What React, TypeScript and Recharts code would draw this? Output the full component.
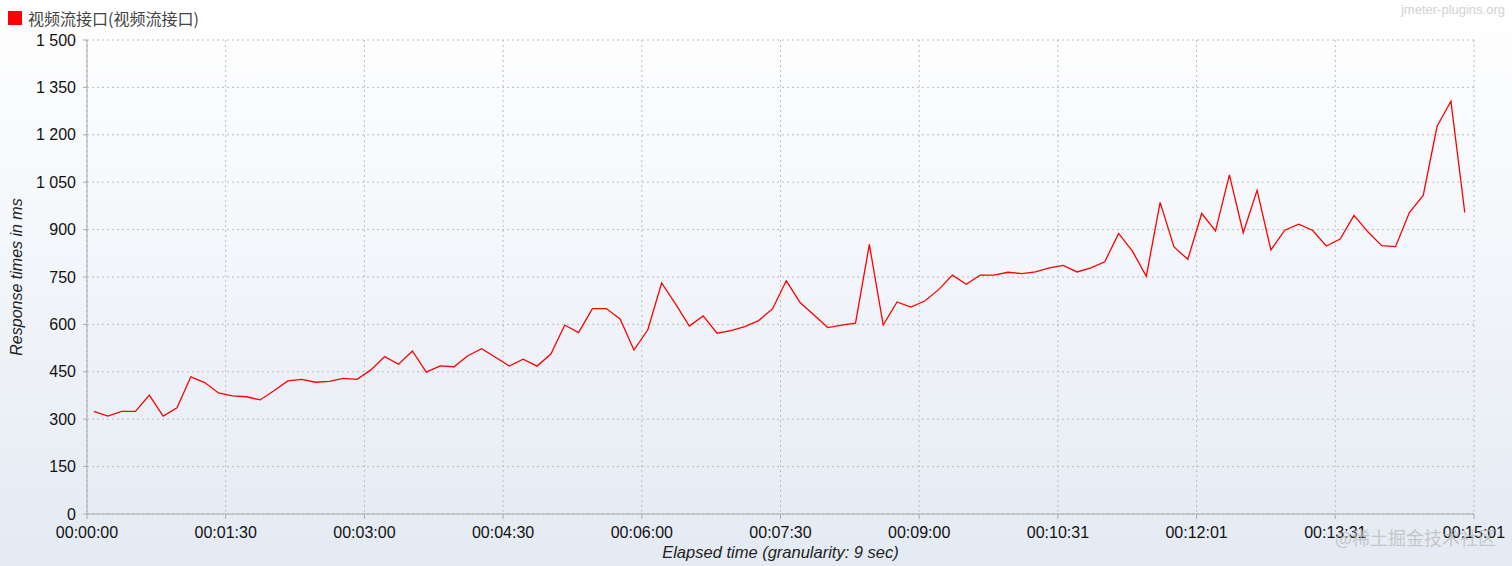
import React from 'react';
import { LineChart, Line, XAxis, YAxis, CartesianGrid, Label } from 'recharts';

const seriesName = '视频流接口(视频流接口)';
const granularitySec = 9;
const firstOffsetSec = 4.5;
const xAxisMaxSec = 901.5;

const responseTimes = [
  325, 310, 325, 325, 376, 310, 336, 434, 416, 383,
  374, 371, 361, 390, 421, 426, 417, 420, 429, 426,
  456, 498, 474, 516, 449, 469, 466, 501, 523, 496,
  468, 490, 468, 506, 598, 574, 650, 650, 617, 519,
  583, 731, 665, 595, 627, 572, 580, 593, 612, 649,
  738, 669, 630, 590, 598, 604, 853, 598, 671, 655,
  674, 710, 756, 727, 756, 756, 765, 761, 766, 779,
  787, 766, 779, 798, 888, 832, 752, 986, 845, 806,
  951, 896, 1073, 890, 1024, 836, 898, 917, 898, 848,
  870, 945, 893, 849, 846, 954, 1008, 1227, 1306, 954,
];

const xTickLabels = [
  '00:00:00', '00:01:30', '00:03:00', '00:04:30', '00:06:00', '00:07:30',
  '00:09:00', '00:10:31', '00:12:01', '00:13:31', '00:15:01',
];

const yTicks = [0, 150, 300, 450, 600, 750, 900, 1050, 1200, 1350, 1500];

const data = responseTimes.map((v, i) => ({ t: firstOffsetSec + i * granularitySec, v }));
const xTicks = xTickLabels.map((_, i) => (i * xAxisMaxSec) / (xTickLabels.length - 1));

const fmtY = (v: number) => {
  if (v >= 1000) {
    const th = Math.floor(v / 1000);
    const rest = String(v % 1000).padStart(3, '0');
    return `${th} ${rest}`;
  }
  return String(v);
};

const fmtX = (v: number) => {
  const idx = xTicks.findIndex((t) => Math.abs(t - v) < 0.01);
  return idx >= 0 ? xTickLabels[idx] : '';
};

const FONT = '"Liberation Sans", Arial, sans-serif';

export default function App() {
  return (
    <div
      style={{
        position: 'absolute',
        left: 0,
        top: 0,
        width: 1512,
        height: 566,
        overflow: 'hidden',
        background: 'linear-gradient(to bottom, #ffffff 0%, #f3f6fa 45%, #e4eaf3 100%)',
        fontFamily: FONT,
      }}
    >
      <div style={{ position: 'absolute', left: 8, top: 11, width: 14, height: 14, background: '#ff0000' }} />
      <div
        style={{
          position: 'absolute',
          left: 28,
          top: 8,
          fontSize: 16,
          lineHeight: '20px',
          color: '#444',
          fontFamily: '"Noto Sans CJK SC", sans-serif',
          whiteSpace: 'nowrap',
        }}
      >
        {seriesName}
      </div>
      <div
        style={{
          position: 'absolute',
          right: 7,
          top: 2,
          fontSize: 13,
          lineHeight: '16px',
          color: '#d2d2d2',
          fontFamily: FONT,
          whiteSpace: 'nowrap',
        }}
      >
        jmeter-plugins.org
      </div>
      <LineChart
        width={1512}
        height={566}
        data={data}
        margin={{ top: 40, right: 38, bottom: 0, left: 0 }}
        style={{ position: 'absolute', left: 0, top: 0 }}
      >
        <CartesianGrid stroke="#bdbdbd" strokeDasharray="2 3" horizontal vertical />
        <XAxis
          dataKey="t"
          type="number"
          domain={[0, xAxisMaxSec]}
          ticks={xTicks}
          tickFormatter={fmtX}
          interval={0}
          height={52}
          stroke="#aaaaaa"
          tickSize={5}
          tickMargin={8}
          tick={{ fill: '#111', fontSize: 16, fontFamily: FONT }}
          allowDataOverflow
        >
          <Label
            value="Elapsed time (granularity: 9 sec)"
            position="insideBottom"
            offset={8}
            style={{ fill: '#222', fontSize: 16.5, fontStyle: 'italic', fontFamily: FONT }}
          />
        </XAxis>
        <YAxis
          type="number"
          domain={[0, 1500]}
          ticks={yTicks}
          tickFormatter={fmtY}
          interval={0}
          width={87}
          stroke="#aaaaaa"
          tickSize={4}
          tickMargin={7}
          tick={{ fill: '#111', fontSize: 16, fontFamily: FONT }}
        >
          <Label
            content={() => (
              <text
                x={22}
                y={277}
                transform="rotate(-90, 22, 277)"
                textAnchor="middle"
                fill="#222"
                fontSize={16}
                fontStyle="italic"
                fontFamily={FONT}
              >
                Response times in ms
              </text>
            )}
          />
        </YAxis>
        <Line
          type="linear"
          dataKey="v"
          stroke="#ff0000"
          strokeWidth={1.3}
          dot={false}
          activeDot={false}
          isAnimationActive={false}
        />
      </LineChart>
      <div
        style={{
          position: 'absolute',
          left: 1335,
          top: 526,
          fontSize: 18,
          lineHeight: '22px',
          color: 'rgba(185,185,185,0.75)',
          fontFamily: '"Noto Sans CJK SC", sans-serif',
          whiteSpace: 'nowrap',
        }}
      >
        @稀土掘金技术社区
      </div>
    </div>
  );
}
